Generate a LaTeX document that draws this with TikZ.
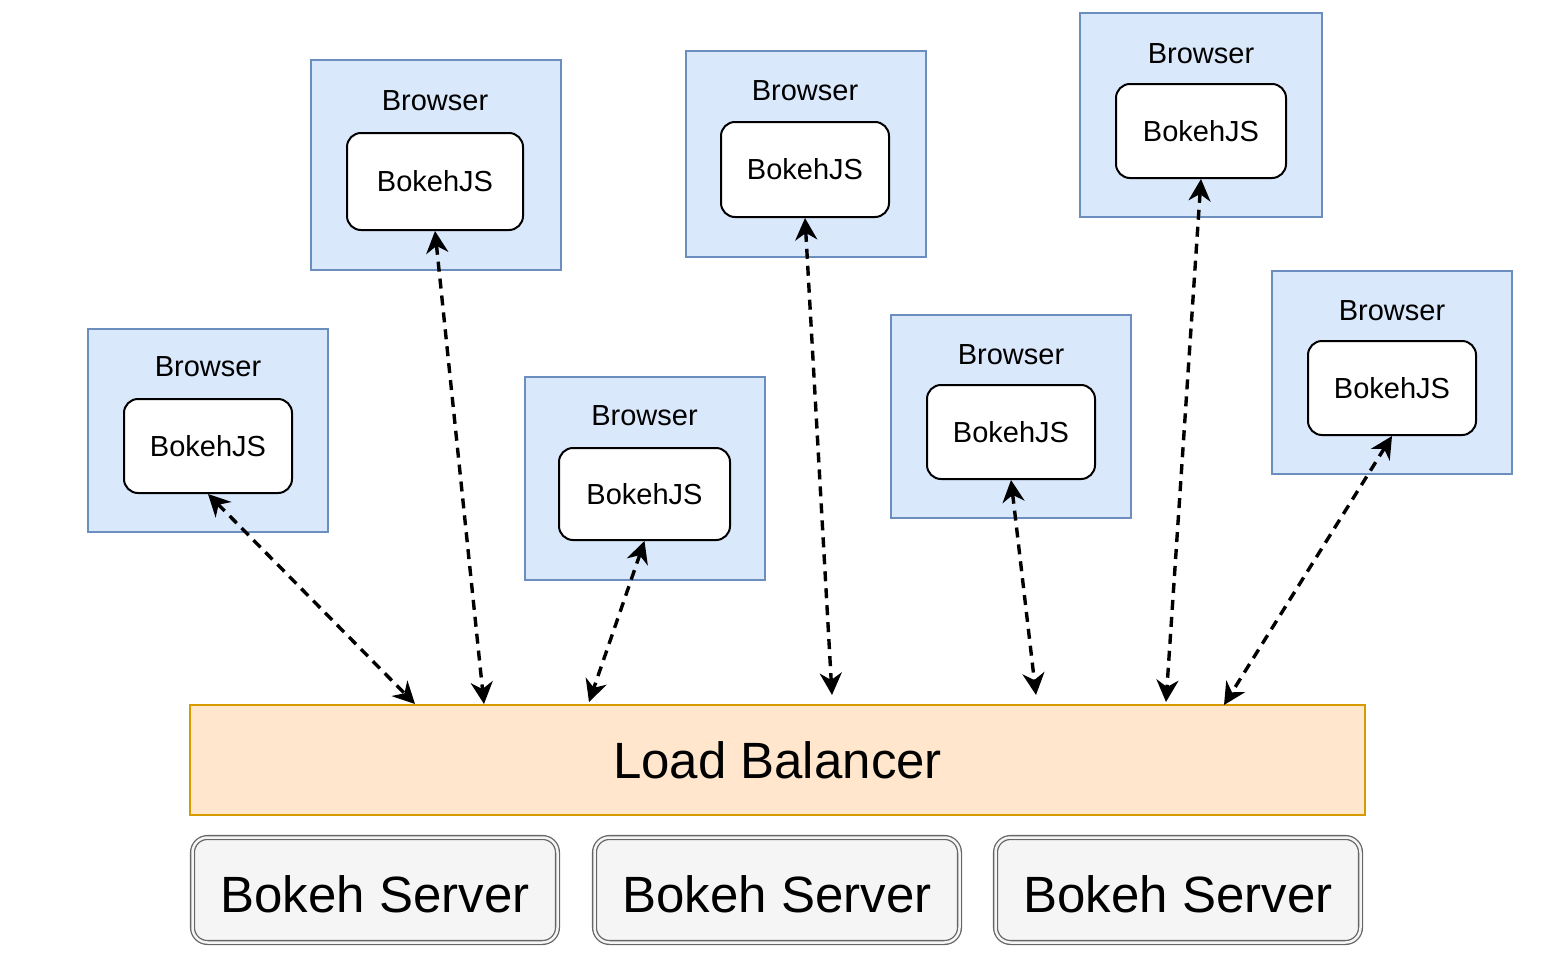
\documentclass[tikz,border=0pt]{standalone}
\usepackage{fontspec}
\setmainfont{Liberation Sans}
\usetikzlibrary{positioning}
\usetikzlibrary{arrows.meta}

\definecolor{browserfill}{HTML}{DAE8FC}
\definecolor{browserline}{HTML}{6C8EBF}
\definecolor{balancerfill}{HTML}{FFE6CC}
\definecolor{balancerline}{HTML}{D79B00}
\definecolor{serverfill}{HTML}{F5F5F5}
\definecolor{serverline}{HTML}{666666}

\begin{document}
\begin{tikzpicture}[x=1pt,y=-1pt,
         >={Stealth[length=22pt,width=22pt,inset=7pt]},
         browser/.style = {draw=browserline, fill=browserfill, line width=2pt,
         minimum width=240pt, minimum height=203pt, inner sep=0pt},
         bokehjs/.style = {draw, fill=white, line width=2pt, rounded corners=14pt,
         minimum width=168pt, minimum height=94pt, inner sep=0pt,
         font=\fontsize{29}{34}\selectfont, text height=20pt, text depth=0pt},
         title/.style = {inner sep=0pt, font=\fontsize{29}{34}\selectfont,
         text height=20pt, text depth=0pt},
         balancer/.style = {draw=balancerline, fill=balancerfill, line width=2pt,
         minimum width=1175pt, minimum height=110pt, inner sep=0pt,
         font=\fontsize{51}{60}\selectfont, text height=37pt, text depth=0pt},
         server/.style = {draw=serverline, fill=serverfill, line width=1.3pt,
         double=serverfill, double distance=2.5pt, rounded corners=15pt,
         minimum width=365pt, minimum height=105pt, inner sep=0pt,
         font=\fontsize{51}{60}\selectfont, text height=45pt, text depth=0pt},
         link/.style = {line width=3.4pt, dash pattern=on 10pt off 7pt, <->}
]
         \useasboundingbox (0,0) rectangle (1552,966);

         % browsers
         \node[browser]                                  (b1) at (208,430.5) {};
         \node[browser, minimum width=250pt, minimum height=210pt] (b2) at (435.5,165) {};
         \node[browser]                                  (b3) at (644.5,478.5) {};
         \node[browser, minimum height=206pt]            (b4) at (805.5,154) {};
         \node[browser]                                  (b5) at (1010.5,416.5) {};
         \node[browser, minimum width=242pt]             (b6) at (1201,115) {};
         \node[browser]                                  (b7) at (1391.5,372) {};

         % bokehjs inside each browser
         \node[bokehjs]                                  (js1) at (208,446) {BokehJS};
         \node[bokehjs, minimum width=176pt, minimum height=97pt] (js2) at (435,181.5) {BokehJS};
         \node[bokehjs, minimum width=171pt, minimum height=92pt] (js3) at (644.5,494) {BokehJS};
         \node[bokehjs, minimum height=95pt]             (js4) at (805,169.5) {BokehJS};
         \node[bokehjs]                                  (js5) at (1011,432) {BokehJS};
         \node[bokehjs, minimum width=170pt]             (js6) at (1201,131) {BokehJS};
         \node[bokehjs]                                  (js7) at (1392,388) {BokehJS};

         \node[title, above=21pt of js1] (t1) {Browser};
         \node[title, above=21pt of js2] (t2) {Browser};
         \node[title, above=21pt of js3] (t3) {Browser};
         \node[title, above=20pt of js4] (t4) {Browser};
         \node[title, above=19pt of js5] (t5) {Browser};
         \node[title, above=19pt of js6] (t6) {Browser};
         \node[title, above=19pt of js7] (t7) {Browser};

         % load balancer
         \node[balancer] (lb) at (777.5,760) {Load Balancer};
         \coordinate (lb1) at (415,704);
         \coordinate (lb2) at (484,704);
         \coordinate (lb3) at (589,702);
         \coordinate (lb4) at (832,695);
         \coordinate (lb5) at (1036,695);
         \coordinate (lb6) at (1166,702);
         \coordinate (lb7) at (1224,705);

         % bokeh servers
         \node[server] (s1) at (375,890)  {Bokeh Server};
         \node[server] (s2) at (777,890)  {Bokeh Server};
         \node[server] (s3) at (1178,890) {Bokeh Server};

         % connections
         \draw[link] (js1.south) -- (lb1);
         \draw[link] (js2.south) -- (lb2);
         \draw[link] (js3.south) -- (lb3);
         \draw[link] (js4.south) -- (lb4);
         \draw[link] (js5.south) -- (lb5);
         \draw[link] (js6.south) -- (lb6);
         \draw[link] (js7.south) -- (lb7);
\end{tikzpicture}
\end{document}
